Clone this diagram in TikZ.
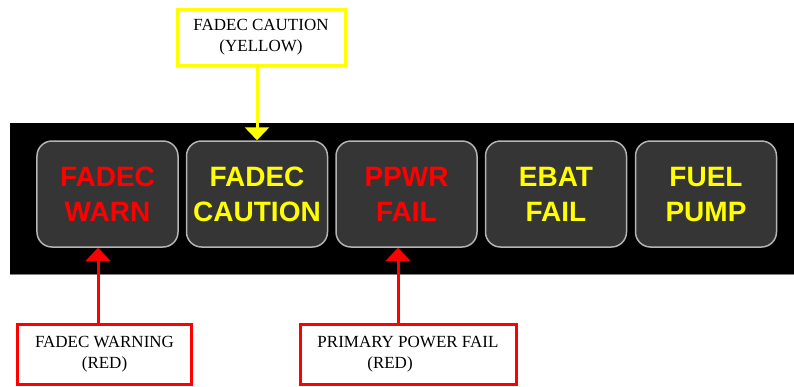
\documentclass[tikz,border=0pt]{standalone}
\usepackage{fontspec}
\setmainfont{Liberation Serif}
\newfontfamily\btnfont{Liberation Sans}
\usetikzlibrary{arrows.meta}
\definecolor{btnfill}{HTML}{353535}
\definecolor{btnedge}{HTML}{B4B4B4}
\definecolor{warnred}{HTML}{FF0000}
\definecolor{cautyel}{HTML}{FFFF00}
\begin{document}
\begin{tikzpicture}[x=1bp,y=-1bp,
  btn/.style={draw=btnedge,line width=1.5bp,fill=btnfill,rounded corners=15bp,
    minimum width=141bp,minimum height=106bp,inner sep=0pt,align=center,
    font=\btnfont\bfseries\fontsize{28bp}{35bp}\selectfont},
  lbl/.style={line width=3bp,fill=white,inner sep=0pt,align=center,text=black,
    font=\fontsize{17bp}{21bp}\selectfont},
  callout/.style={line width=3bp,-{Triangle[width=24bp,length=13bp]}}]
\useasboundingbox (0,0) rectangle (794,386);
\fill[black] (10,123) rectangle (794,274);
\draw[gray,line width=0.8bp] (10,274) -- (794,274);
\node[btn,text=warnred] (warn) at (107.5,194) {FADEC\\WARN};
\node[btn,text=cautyel] (caut) at (257,194) {FADEC\\CAUTION};
\node[btn,text=warnred] (ppwr) at (406.5,194) {PPWR\\FAIL};
\node[btn,text=cautyel] (ebat) at (556,194) {EBAT\\FAIL};
\node[btn,text=cautyel] (fuel) at (706,194) {FUEL\\PUMP};
\node[lbl,draw=cautyel,minimum width=168bp,minimum height=56bp] (ybox) at (261,37) {FADEC CAUTION\\(YELLOW)};
\node[lbl,draw=warnred,minimum width=173bp,minimum height=60bp] (wbox) at (104.5,354) {FADEC WARNING\\(RED)};
\node[lbl,draw=warnred,minimum width=216bp,minimum height=60bp] (pbox) at (408,354) {PRIMARY POWER FAIL\\\hspace*{-36bp}(RED)};
\coordinate (a1) at (98,324);
\coordinate (a2) at (398,324);
\coordinate (a3) at (257,65);
\draw[callout,draw=warnred,fill=warnred] (a1) -- (a1 |- warn.south);
\draw[callout,draw=warnred,fill=warnred] (a2) -- (a2 |- ppwr.south);
\draw[callout,draw=cautyel,fill=cautyel] (a3) -- (a3 |- caut.north);
\end{tikzpicture}
\end{document}
